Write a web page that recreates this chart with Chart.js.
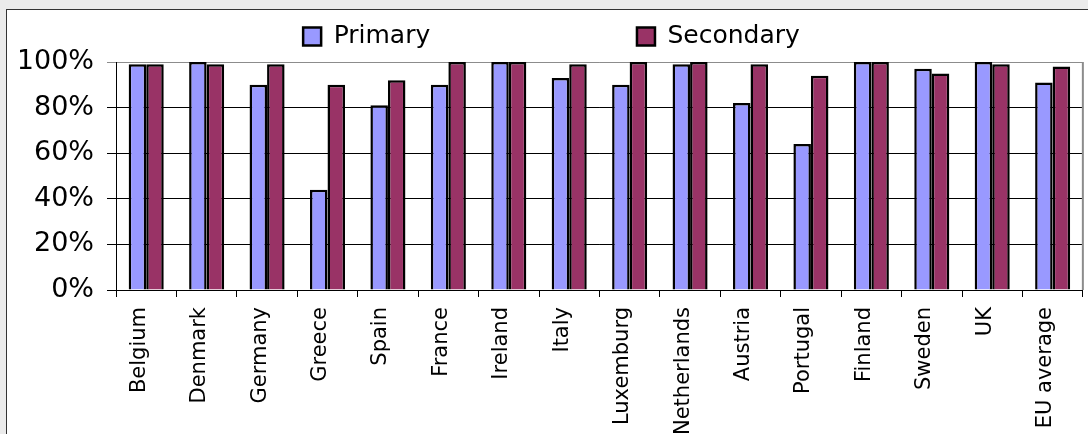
<!DOCTYPE html>
<html>
<head>
<meta charset="utf-8">
<title>Primary / Secondary</title>
<script src="https://cdn.jsdelivr.net/npm/chart.js@4.4.1/dist/chart.umd.min.js"></script>
<style>
  html, body { margin: 0; padding: 0; background: #ebebeb; overflow: hidden; }
  .frame { position: absolute; left: 6px; top: 9px; width: 1100px; height: 440px; background: #fff; border: 1px solid #333; }
  #chart { position: absolute; left: 0; top: 0; }
</style>
</head>
<body>
<div class="frame"></div>
<canvas id="chart" width="1088" height="434"></canvas>
<script>
// data
const countries = ['Belgium', 'Denmark', 'Germany', 'Greece', 'Spain', 'France', 'Ireland', 'Italy',
  'Luxemburg', 'Netherlands', 'Austria', 'Portugal', 'Finland', 'Sweden', 'UK', 'EU average'];
const primary   = [99, 100, 90, 44, 81, 90, 100, 93, 90, 99, 82, 64, 100, 97, 100, 91];
const secondary = [99, 99, 99, 90, 92, 100, 100, 99, 100, 100, 99, 94, 100, 95, 99, 98];
const yTicks = [0, 20, 40, 60, 80, 100];

const FONT = 'DejaVu Sans, Verdana, sans-serif';
const NBSP = '\u00A0';
const LEGEND_H = 54; // legend band height, so the plot starts where Excel put it

// fixes the legend band height and draws the grey right edge of the plot area
const plotFrame = {
  id: 'plotFrame',
  beforeLayout(chart) {
    const lg = chart.legend;
    if (lg && !lg._fixedFit) {
      const fit = lg.fit;
      lg.fit = function () { fit.call(this); this.height = LEGEND_H; };
      lg._fixedFit = true;
    }
  },
  afterDatasetsDraw(chart) {
    const { ctx, chartArea: a } = chart;
    ctx.save();
    ctx.strokeStyle = '#8c8c8c';
    ctx.lineWidth = 2;
    ctx.beginPath();
    ctx.moveTo(a.right, a.top);
    ctx.lineTo(a.right, a.bottom);
    ctx.stroke();
    ctx.restore();
  },
};

new Chart(document.getElementById('chart'), {
  type: 'bar',
  data: {
    labels: countries,
    datasets: [
      { label: 'Primary', data: primary, backgroundColor: '#9999ff', borderColor: '#000', borderWidth: 2.5 },
      { label: 'Secondary', data: secondary, backgroundColor: '#993366', borderColor: '#000', borderWidth: 2.5 },
    ],
  },
  options: {
    responsive: false,
    animation: false,
    events: [],
    layout: { padding: { left: 20, top: 8, right: 5, bottom: 0 } },
    datasets: { bar: { categoryPercentage: 0.58, barPercentage: 1.0 } },
    plugins: {
      tooltip: { enabled: false },
      legend: {
        position: 'top',
        labels: {
          font: { family: FONT, size: 25 },
          color: '#000',
          boxWidth: 18,
          boxHeight: 18,
          padding: 16,
          generateLabels(chart) {
            const items = Chart.defaults.plugins.legend.labels.generateLabels(chart);
            // Excel spreads the two entries far apart
            items[0].text = items[0].text + NBSP.repeat(24);
            return items;
          },
        },
      },
    },
    scales: {
      x: {
        afterFit(scale) { scale.height = 144; },
        border: { color: '#000', width: 1 },
        grid: { offset: true, drawOnChartArea: false, tickLength: 7, color: '#000' },
        ticks: {
          autoSkip: false,
          maxRotation: 90,
          minRotation: 90,
          padding: 10,
          labelOffset: -7,
          color: '#000',
          font: { family: FONT, size: 21 },
        },
      },
      y: {
        min: 0,
        max: 100,
        afterFit(scale) { scale.width = 96; },
        afterBuildTicks(scale) { scale.ticks = yTicks.map(v => ({ value: v })); },
        border: { color: '#000', width: 1 },
        grid: {
          tickLength: 9,
          lineWidth: 1,
          color: (c) => (c.tick && c.tick.value === 100 ? '#8c8c8c' : '#000'),
        },
        ticks: {
          padding: 13,
          color: '#000',
          font: { family: FONT, size: 27 },
          callback: (v) => v + '%',
        },
      },
    },
  },
  plugins: [plotFrame],
});
</script>
</body>
</html>
